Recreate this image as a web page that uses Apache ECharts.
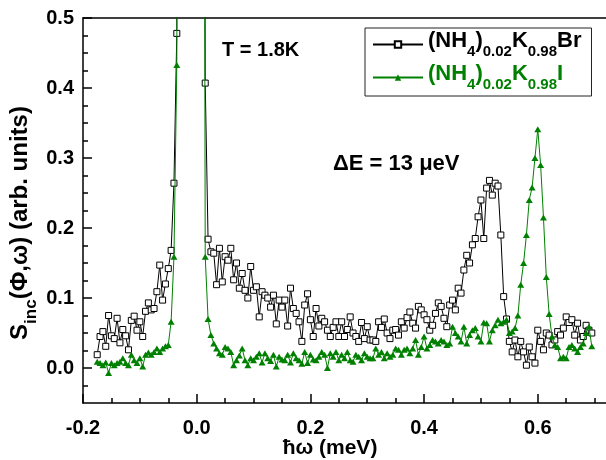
<!DOCTYPE html>
<html>
<head>
<meta charset="utf-8">
<script src="https://cdn.jsdelivr.net/npm/echarts@6/dist/echarts.min.js"></script>
<style>
html, body { margin: 0; padding: 0; background: #fff; }
#chart { width: 606px; height: 460px; }
</style>
</head>
<body>
<div id="chart"></div>
<script>
// energy transfer (meV), shared by both samples
const energy = [
	-0.175, -0.17, -0.165, -0.16, -0.155, -0.15, -0.145, -0.14, -0.135, -0.13,
	-0.125, -0.12, -0.115, -0.11, -0.105, -0.1, -0.095, -0.09, -0.085, -0.08,
	-0.075, -0.07, -0.065, -0.06, -0.055, -0.05, -0.045, -0.04, -0.035, -0.03,
	-0.025, -0.02, -0.015, -0.01, -0.005, 0, 0.005, 0.01, 0.015, 0.02,
	0.025, 0.03, 0.035, 0.04, 0.045, 0.05, 0.055, 0.06, 0.065, 0.07,
	0.075, 0.08, 0.085, 0.09, 0.095, 0.1, 0.105, 0.11, 0.115, 0.12,
	0.125, 0.13, 0.135, 0.14, 0.145, 0.15, 0.155, 0.16, 0.165, 0.17,
	0.175, 0.18, 0.185, 0.19, 0.195, 0.2, 0.205, 0.21, 0.215, 0.22,
	0.225, 0.23, 0.235, 0.24, 0.245, 0.25, 0.255, 0.26, 0.265, 0.27,
	0.275, 0.28, 0.285, 0.29, 0.295, 0.3, 0.305, 0.31, 0.315, 0.32,
	0.325, 0.33, 0.335, 0.34, 0.345, 0.35, 0.355, 0.36, 0.365, 0.37,
	0.375, 0.38, 0.385, 0.39, 0.395, 0.4, 0.405, 0.41, 0.415, 0.42,
	0.425, 0.43, 0.435, 0.44, 0.445, 0.45, 0.455, 0.46, 0.465, 0.47,
	0.475, 0.48, 0.485, 0.49, 0.495, 0.5, 0.505, 0.51, 0.515, 0.52,
	0.525, 0.53, 0.535, 0.54, 0.545, 0.55, 0.555, 0.56, 0.565, 0.57,
	0.575, 0.58, 0.585, 0.59, 0.595, 0.6, 0.605, 0.61, 0.615, 0.62,
	0.625, 0.63, 0.635, 0.64, 0.645, 0.65, 0.655, 0.66, 0.665, 0.67,
	0.675, 0.68, 0.685, 0.69, 0.695,
]

// (NH4)0.02K0.98Br
const brIntensity = [
	0.019, 0.045, 0.052, 0.031, 0.075, 0.046, 0.042, 0.071, 0.036, 0.055,
	0.046, 0.026, 0.068, 0.074, 0.054, 0.066, 0.045, 0.081, 0.093, 0.083,
	0.085, 0.109, 0.147, 0.097, 0.12, 0.142, 0.168, 0.264, 0.478, 2.5,
	6, 10, 14, 16, 14, 10, 6, 2.5, 0.407, 0.184,
	0.166, 0.164, 0.119, 0.171, 0.123, 0.159, 0.154, 0.171, 0.126, 0.15,
	0.114, 0.135, 0.111, 0.1, 0.145, 0.111, 0.116, 0.073, 0.109, 0.104,
	0.1, 0.087, 0.104, 0.063, 0.097, 0.087, 0.097, 0.06, 0.114, 0.085,
	0.078, 0.066, 0.038, 0.09, 0.106, 0.069, 0.045, 0.085, 0.06, 0.071,
	0.066, 0.054, 0.045, 0.058, 0.066, 0.045, 0.066, 0.045, 0.055, 0.073,
	0.05, 0.045, 0.038, 0.065, 0.042, 0.059, 0.04, 0.04, 0.038, 0.066,
	0.058, 0.07, 0.05, 0.042, 0.054, 0.055, 0.047, 0.066, 0.057, 0.072,
	0.08, 0.064, 0.057, 0.088, 0.083, 0.076, 0.069, 0.054, 0.061, 0.078,
	0.093, 0.088, 0.071, 0.059, 0.09, 0.097, 0.083, 0.114, 0.107, 0.14,
	0.161, 0.15, 0.176, 0.185, 0.216, 0.24, 0.185, 0.257, 0.268, 0.247,
	0.264, 0.26, 0.19, 0.102, 0.07, 0.038, 0.023, 0.04, 0.016, 0.038,
	0.023, 0.004, 0.03, 0.016, 0.007, 0.054, 0.038, 0.026, 0.05, 0.047,
	0.033, 0.04, 0.052, 0.047, 0.057, 0.073, 0.065, 0.069, 0.047, 0.064,
	0.04, 0.045, 0.061, 0.054, 0.05,
]

// (NH4)0.02K0.98I
const iIntensity = [
	0.009, 0.007, 0.004, 0.008, -0.007, 0.007, 0.004, 0.007, 0.009, 0.014,
	0.007, 0.004, 0.019, 0.011, 0.007, 0.014, 0.002, 0.019, 0.022, 0.019,
	0.023, 0.028, 0.023, 0.028, 0.031, 0.033, 0.066, 0.159, 0.433, 2.2,
	5, 9, 13, 15, 13, 9, 5, 2.2, 0.159, 0.07,
	0.047, 0.035, 0.028, 0.021, 0.019, 0.03, 0.028, 0.023, 0.004, 0.011,
	0.018, 0.028, 0.011, 0.004, 0.014, 0.011, 0.016, 0.021, 0.008, 0.021,
	0.014, 0.01, 0.019, 0.002, 0.016, 0.012, 0.011, 0.019, 0.008, 0.021,
	0.014, 0.011, 0.006, 0.023, 0.007, 0.019, 0.012, 0.011, 0.016, 0.023,
	0.019, 0.0, 0.021, 0.016, 0.023, 0.011, 0.019, 0.014, 0.023, 0.011,
	0.009, 0.019, 0.016, 0.011, 0.021, 0.016, 0.014, 0.014, 0.028, 0.019,
	0.023, 0.014, 0.021, 0.016, 0.019, 0.028, 0.026, 0.019, 0.026, 0.028,
	0.021, 0.028, 0.04, 0.019, 0.03, 0.045, 0.028, 0.033, 0.04, 0.038,
	0.035, 0.04, 0.038, 0.033, 0.035, 0.059, 0.05, 0.045, 0.038, 0.059,
	0.035, 0.047, 0.054, 0.057, 0.045, 0.038, 0.065, 0.064, 0.038, 0.054,
	0.061, 0.069, 0.064, 0.066, 0.069, 0.05, 0.052, 0.057, 0.075, 0.119,
	0.15, 0.19, 0.24, 0.258, 0.3, 0.341, 0.29, 0.215, 0.13, 0.077,
	0.045, 0.033, 0.03, 0.014, 0.016, 0.014, 0.03, 0.033, 0.028, 0.023,
	0.03, 0.035, 0.05, 0.059, 0.031,
]

const xMajorTicks = [-0.2, 0, 0.2, 0.4, 0.6]
const xMinorTicks = [-0.15, -0.1, -0.05, 0.05, 0.1, 0.15, 0.25, 0.3, 0.35, 0.45, 0.5, 0.55, 0.65, 0.7]
const yMajorTicks = [0, 0.1, 0.2, 0.3, 0.4, 0.5]
const yMinorTicks = [-0.025, 0.025, 0.05, 0.075, 0.125, 0.15, 0.175, 0.225, 0.25, 0.275, 0.325, 0.35, 0.375, 0.425, 0.45, 0.475]

const FONT = 'Liberation Sans'
const GREEN = '#008000'

const myChart = echarts.init(document.getElementById('chart'), null, { renderer: 'canvas' })

const axisLine = { show: true, onZero: false, lineStyle: { color: '#000', width: 1.5 } }
const noLine = { show: false, onZero: false }

const richText = (size, subSize, drop) => ({
	m: { fontFamily: FONT, fontWeight: 'bold', fontSize: size, lineHeight: size + 7 + drop, verticalAlign: 'top' },
	s: { fontFamily: FONT, fontWeight: 'bold', fontSize: subSize, lineHeight: subSize, padding: [size + 7 + drop - subSize, 0, 0, 0] },
})

const legendLabel = (name) => {
	const tail = name === 'Br' ? 'Br' : 'I'
	return `{m|(NH}{s|4}{m|)}{s|0.02}{m|K}{s|0.98}{m|${tail}}`
}

let option = {
	animation: false,
	grid: { left: 83, top: 18, width: 526, height: 385, containLabel: false },
	xAxis: [
		{
			type: 'value',
			min: -0.2,
			max: 0.72,
			interval: 0.2,
			position: 'bottom',
			axisLine: axisLine,
			splitLine: { show: false },
			axisTick: { show: true, inside: true, length: 9, customValues: xMajorTicks, lineStyle: { color: '#000', width: 1.5 } },
			axisLabel: {
				customValues: xMajorTicks,
				formatter: (v) => v.toFixed(1),
				fontFamily: FONT,
				fontWeight: 'bold',
				fontSize: 20,
				color: '#000',
				margin: 15,
			},
		},
		{
			type: 'value',
			min: -0.2,
			max: 0.72,
			position: 'bottom',
			axisLine: noLine,
			splitLine: { show: false },
			axisTick: { show: true, inside: true, length: 5, customValues: xMinorTicks, lineStyle: { color: '#000', width: 1.5 } },
			axisLabel: { show: false },
		},
		{
			type: 'value',
			min: -0.2,
			max: 0.72,
			position: 'top',
			axisLine: axisLine,
			splitLine: { show: false },
			axisTick: { show: false },
			axisLabel: { show: false },
		},
	],
	yAxis: [
		{
			type: 'value',
			min: -0.05,
			max: 0.5,
			interval: 0.05,
			position: 'left',
			axisLine: axisLine,
			splitLine: { show: false },
			axisTick: { show: true, inside: true, length: 9, customValues: yMajorTicks, lineStyle: { color: '#000', width: 1.5 } },
			axisLabel: {
				customValues: yMajorTicks,
				formatter: (v) => v.toFixed(1),
				fontFamily: FONT,
				fontWeight: 'bold',
				fontSize: 20,
				color: '#000',
				margin: 9,
			},
		},
		{
			type: 'value',
			min: -0.05,
			max: 0.5,
			position: 'left',
			axisLine: noLine,
			splitLine: { show: false },
			axisTick: { show: true, inside: true, length: 5, customValues: yMinorTicks, lineStyle: { color: '#000', width: 1.5 } },
			axisLabel: { show: false },
		},
	],
	legend: {
		left: 365,
		top: 28,
		orient: 'vertical',
		selectedMode: false,
		backgroundColor: '#fff',
		borderColor: '#222',
		borderWidth: 1,
		borderRadius: 0,
		padding: [2, 10, 4, 7],
		itemGap: 4,
		itemWidth: 50,
		itemHeight: 8,
		formatter: legendLabel,
		textStyle: { fontFamily: FONT, fontWeight: 'bold', fontSize: 22, rich: richText(22, 15, 0) },
		data: [
			{ name: 'Br', textStyle: { color: '#000' } },
			{ name: 'I', textStyle: { color: GREEN } },
		],
	},
	graphic: [
		{
			type: 'text',
			left: 222,
			top: 40,
			style: { text: 'T = 1.8K', font: `bold 20px "${FONT}"`, fill: '#000' },
		},
		{
			type: 'text',
			left: 333,
			top: 153,
			style: { text: 'ΔE = 13 μeV', font: `bold 22px "${FONT}"`, fill: '#000' },
		},
		{
			type: 'text',
			x: 24,
			y: 223,
			rotation: Math.PI / 2,
			style: {
				text: '{m|S}{s|inc}{m|(Φ,ω) (arb. units)}',
				align: 'center',
				verticalAlign: 'middle',
				fill: '#000',
				rich: richText(24, 17, 0),
			},
		},
		{
			type: 'text',
			x: 330,
			y: 448,
			style: { text: 'ħω (meV)', align: 'center', verticalAlign: 'middle', font: `bold 21px "${FONT}"`, fill: '#000' },
		},
	],
	series: [
		{
			name: 'Br',
			type: 'line',
			data: energy.map((e, i) => [e, brIntensity[i]]),
			symbol: 'rect',
			symbolSize: 6,
			showAllSymbol: true,
			clip: true,
			itemStyle: { color: '#fff', borderColor: '#000', borderWidth: 1 },
			lineStyle: { color: '#000', width: 1 },
			emphasis: { disabled: true },
			z: 2,
		},
		{
			name: 'I',
			type: 'line',
			data: energy.map((e, i) => [e, iIntensity[i]]),
			symbol: 'triangle',
			symbolSize: [7, 6],
			showAllSymbol: true,
			clip: true,
			itemStyle: { color: GREEN, borderWidth: 0 },
			lineStyle: { color: GREEN, width: 1 },
			emphasis: { disabled: true },
			z: 3,
		},
	],
}
myChart.setOption(option)

window.addEventListener('resize', () => {
	myChart.resize()
})
</script>
</body>
</html>
